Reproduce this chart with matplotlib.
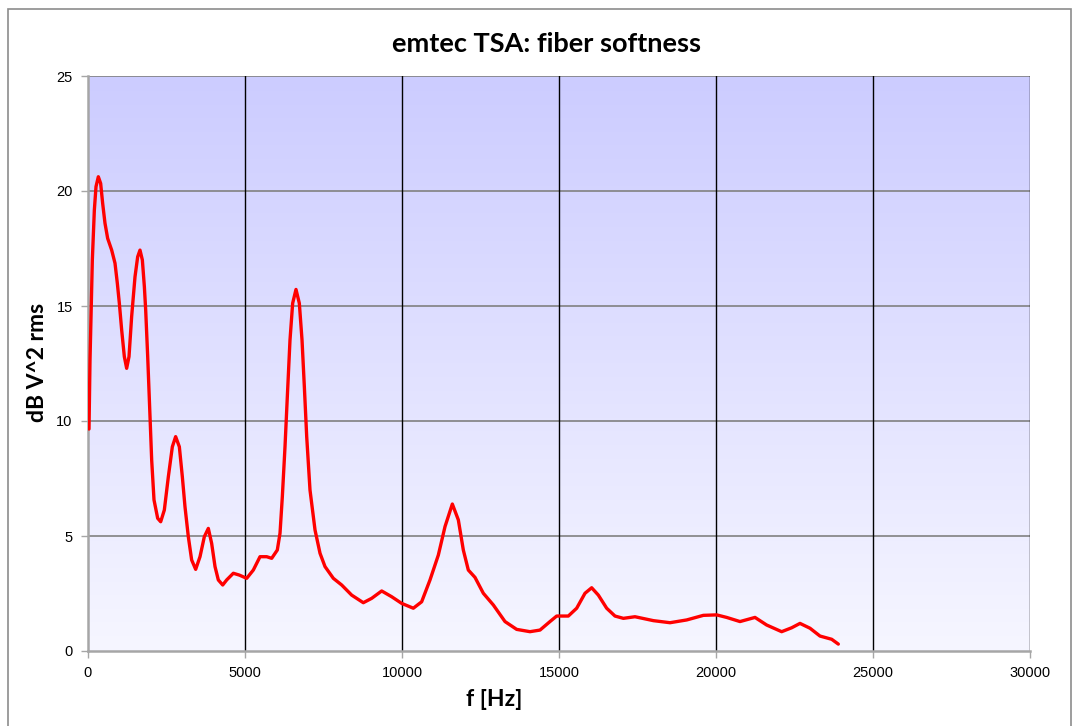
import matplotlib
matplotlib.use('Agg')
import matplotlib.pyplot as plt
import numpy as np
from matplotlib.patches import Rectangle

# spectrum
freq = [32, 64, 138, 202, 255, 329, 403, 467, 541, 626, 754, 860, 934, 998,
        1072, 1157, 1231, 1306, 1390, 1497, 1582, 1656, 1731, 1795, 1837,
        1901, 1975, 2028, 2102, 2219, 2315, 2431, 2559, 2686, 2791, 2909,
        3004, 3089, 3195, 3301, 3429, 3567, 3705, 3832, 3938, 4045, 4150,
        4290, 4417, 4628, 4820, 5054, 5265, 5478, 5690, 5850, 6029, 6115,
        6189, 6274, 6348, 6433, 6518, 6624, 6730, 6816, 6890, 6965, 7070,
        7230, 7389, 7548, 7813, 8079, 8397, 8768, 9035, 9353, 9671, 9990,
        10361, 10626, 10892, 11157, 11370, 11603, 11794, 11953, 12112, 12325,
        12590, 12909, 13280, 13652, 14076, 14395, 14713, 14926, 15297, 15563,
        15828, 16040, 16253, 16518, 16783, 17049, 17420, 18005, 18535, 19066,
        19597, 20021, 20340, 20764, 21242, 21613, 22091, 22410, 22675, 22994,
        23312, 23684, 23896]
level = [9.65, 12.65, 17.0, 19.17, 20.19, 20.62, 20.33, 19.46, 18.6, 17.94,
         17.43, 16.86, 15.99, 15.12, 13.96, 12.8, 12.29, 12.8, 14.54, 16.27,
         17.14, 17.43, 17.0, 15.84, 14.83, 12.8, 10.19, 8.3, 6.57, 5.77, 5.62,
         6.13, 7.58, 8.88, 9.32, 8.88, 7.58, 6.27, 4.97, 3.96, 3.55, 4.1, 4.97,
         5.33, 4.68, 3.67, 3.09, 2.87, 3.09, 3.38, 3.3, 3.16, 3.52, 4.1, 4.1,
         4.03, 4.39, 5.12, 6.71, 8.88, 11.06, 13.52, 15.12, 15.72, 15.12,
         13.52, 11.49, 9.32, 7.0, 5.26, 4.25, 3.67, 3.16, 2.87, 2.43, 2.1,
         2.29, 2.61, 2.36, 2.07, 1.86, 2.14, 3.09, 4.17, 5.41, 6.39, 5.7,
         4.39, 3.52, 3.2, 2.51, 2.0, 1.28, 0.94, 0.84, 0.91, 1.28, 1.52, 1.52,
         1.86, 2.51, 2.75, 2.43, 1.86, 1.52, 1.42, 1.49, 1.32, 1.23, 1.35,
         1.55, 1.57, 1.46, 1.28, 1.46, 1.13, 0.84, 1.01, 1.2, 0.99, 0.65,
         0.51, 0.30]

xticks = [0, 5000, 10000, 15000, 20000, 25000, 30000]
yticks = [0, 5, 10, 15, 20, 25]

W, H = 1077, 726
fig = plt.figure(figsize=(W / 100, H / 100), dpi=100)
fig.patches.append(Rectangle((8 / W, -0.01), 1063 / W, 1 - 9 / H + 0.01,
                             transform=fig.transFigure, fill=False,
                             edgecolor='#8c8c8c', linewidth=1.2))

ax = fig.add_axes([88 / W, 75 / H, 942 / W, 575 / H])

# vertical gradient fill of the plot area
top = np.array([204, 204, 255]) / 255
bot = np.array([246, 246, 255]) / 255
t = np.linspace(0, 1, 256)[:, None]
grad = (top * (1 - t) + bot * t)[:, None, :]
ax.imshow(grad, extent=[0, 30000, 0, 25], aspect='auto', origin='upper', zorder=0)

ax.set_xlim(0, 30000)
ax.set_ylim(0, 25)
ax.set_xticks(xticks)
ax.set_yticks(yticks)

for y in yticks[1:]:
    ax.axhline(y, color='#808080', linewidth=1.2, zorder=1)
for x in xticks[1:]:
    ax.axvline(x, color='black', linewidth=1.0, zorder=1)

ax.plot(freq, level, color='red', linewidth=2.4, zorder=3,
        solid_joinstyle='round', solid_capstyle='round')

for s in ['top', 'right']:
    ax.spines[s].set_visible(False)
for s in ['left', 'bottom']:
    ax.spines[s].set_color('#a6a6a6')
    ax.spines[s].set_linewidth(1.8)
    ax.spines[s].set_zorder(2)
ax.tick_params(direction='out', length=5, width=1, color='#a6a6a6',
               labelsize=10.5, pad=6)
for lab in ax.get_xticklabels() + ax.get_yticklabels():
    lab.set_family('Liberation Sans')

fig.text(546 / W, 1 - 44 / H, 'emtec TSA: fiber softness', ha='center',
         va='center', fontsize=19.5, fontweight='bold', family='Lato')
fig.text(494 / W, 1 - 700 / H, 'f [Hz]', ha='center', va='center',
         fontsize=16.5, fontweight='bold', family='Lato')
fig.text(38 / W, 1 - 362 / H, 'dB V^2 rms', ha='center', va='center',
         rotation=90, fontsize=16.5, fontweight='bold', family='Lato')

fig.savefig('out.png', dpi=100)
